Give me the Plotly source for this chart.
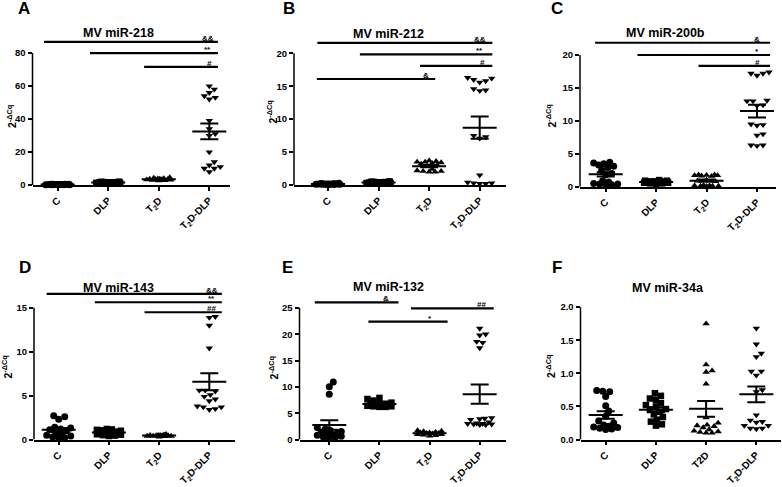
import numpy as np
import plotly.graph_objects as go

W, H = 782, 487
FONT = "Liberation Sans, Arial, sans-serif"

groups = ["C", "DLP", "T2D", "T2D-DLP"]
ticks_sub = ["C", "DLP", "T<sub>2</sub>D", "T<sub>2</sub>D-DLP"]
ticks_f = ["C", "DLP", "T2D", "T<sub>2</sub>D-DLP"]
symbols = ["circle", "square", "triangle-up", "triangle-down"]
msizes = [7, 6.5, 6.5, 6.5]

# ---------------- data (2^-dCq) ----------------
a_c = [0.1, 0.15, 0.2, 0.2, 0.25, 0.25, 0.3, 0.3, 0.3, 0.35, 0.35, 0.4, 0.4, 0.45, 0.5, 0.2]
a_dlp = [1.0, 1.1, 1.2, 1.3, 1.3, 1.4, 1.4, 1.5, 1.5, 1.6, 1.6, 1.7, 1.8, 1.9, 2.0, 1.2]
a_t2d = [2.6, 2.8, 3.0, 3.2, 3.3, 3.4, 3.5, 3.6, 3.7, 3.8, 4.0, 4.2, 4.5, 3.1]
a_t2ddlp = [60, 58, 56, 54, 53, 52, 39, 34, 31, 30, 20, 14, 12, 11, 10, 10, 8]

b_c = [0.05, 0.08, 0.1, 0.1, 0.12, 0.12, 0.15, 0.15, 0.18, 0.2, 0.2, 0.22, 0.25, 0.1, 0.14, 0.16]
b_dlp = [0.2, 0.25, 0.28, 0.3, 0.32, 0.35, 0.35, 0.38, 0.4, 0.42, 0.45, 0.48, 0.5, 0.55, 0.3, 0.4]
b_t2d = [3.7, 3.6, 3.5, 3.5, 3.4, 3.3, 3.2, 3.0, 2.9, 2.4, 2.2, 2.1, 2.1, 2.0, 2.0]
b_t2ddlp = [16.3, 16.2, 16.0, 15.8, 15.6, 14.6, 14.4, 14.3, 7.5, 7.3, 7.1, 1.5, 0.4, 0.3, 0.3, 0.2, 0.2]

c_c = [3.7, 3.6, 3.5, 3.3, 3.1, 2.9, 2.5, 2.0, 1.8, 0.9, 0.7, 0.5, 0.4, 0.4, 0.3, 0.3]
c_dlp = [0.4, 0.5, 0.5, 0.6, 0.6, 0.7, 0.7, 0.7, 0.8, 0.8, 0.8, 0.9, 0.9, 1.0, 0.6, 0.7]
c_t2d = [1.8, 1.8, 1.75, 1.7, 1.7, 1.65, 1.6, 1.0, 0.9, 0.8, 0.2, 0.15, 0.15, 0.1, 0.1, 0.1, 0.05]
c_t2ddlp = [17.4, 17.2, 17.2, 16.9, 13.1, 13.0, 13.0, 12.4, 12.3, 9.5, 9.4, 9.3, 8.0, 7.8, 6.3, 6.3, 6.2]

d_c = [2.7, 2.6, 2.3, 1.4, 1.3, 1.2, 1.1, 1.0, 0.8, 0.6, 0.5, 0.4, 0.3, 0.2, 0.2]
d_dlp = [1.2, 1.15, 1.1, 1.05, 1.0, 0.9, 0.85, 0.8, 0.75, 0.7, 0.65, 0.6, 0.55, 0.5, 0.45, 0.4]
d_t2d = [0.3, 0.35, 0.4, 0.4, 0.45, 0.45, 0.5, 0.5, 0.55, 0.6, 0.4, 0.45, 0.5]
d_t2ddlp = [14.0, 13.9, 13.0, 10.4, 5.6, 5.6, 5.5, 5.1, 4.9, 4.6, 4.4, 3.8, 3.7, 3.7, 3.5, 3.4]

e_c = [10.9, 10.0, 8.6, 2.3, 2.0, 1.7, 1.5, 1.4, 1.2, 1.0, 0.9, 0.8, 0.6, 0.5, 0.4, 0.3]
e_dlp = [7.9, 7.7, 7.4, 7.0, 6.8, 6.7, 6.6, 6.5, 6.5, 6.4, 6.4, 6.3, 6.3, 6.2, 6.2]
e_t2d = [0.7, 0.8, 0.9, 1.0, 1.1, 1.2, 1.2, 1.3, 1.4, 1.5, 1.6, 1.7, 1.0, 1.3]
e_t2ddlp = [21.1, 20.0, 19.8, 18.6, 18.4, 17.4, 4.1, 4.0, 3.9, 3.8, 3.3, 3.1, 3.0, 3.0, 2.9, 2.9, 2.8, 2.8]

f_c = [0.74, 0.73, 0.72, 0.65, 0.51, 0.43, 0.35, 0.28, 0.25, 0.22, 0.20, 0.19, 0.18, 0.17, 0.16, 0.15]
f_dlp = [0.70, 0.66, 0.62, 0.60, 0.55, 0.52, 0.50, 0.46, 0.45, 0.42, 0.38, 0.34, 0.30, 0.27, 0.23, 0.21]
f_t2d = [1.75, 1.13, 1.04, 1.02, 0.84, 0.33, 0.25, 0.22, 0.21, 0.20, 0.18, 0.15, 0.13, 0.12, 0.11, 0.10, 0.10]
f_t2ddlp = [1.68, 1.44, 1.30, 1.25, 1.03, 1.03, 0.97, 0.75, 0.72, 0.37, 0.29, 0.27, 0.26, 0.21, 0.21, 0.17, 0.17, 0.16]

# significance brackets: (from, to, level, label, label position)
sig_a = [(-0.27, 3.17, 86.8, "&&", 2.97), (0.64, 3.17, 80.0, "**", 2.97), (1.71, 3.17, 71.6, "#", 3.0)]
sig_b = [(-0.21, 3.25, 21.6, "&&", 3.0), (0.63, 3.25, 19.85, "**", 3.0), (1.82, 3.25, 18.1, "#", 3.05),
         (-0.22, 2.12, 16.1, "&", 1.93)]
sig_c = [(-0.21, 3.26, 21.86, "&", 3.0), (0.63, 3.26, 20.0, "*", 3.0), (1.84, 3.26, 18.35, "#", 3.0)]
sig_d = [(-0.24, 3.25, 16.6, "&&", 3.05), (0.72, 3.25, 15.64, "**", 3.05), (1.71, 3.25, 14.5, "##", 3.05)]
sig_e = [(-0.29, 1.38, 26.06, "&", 1.13), (1.63, 3.28, 24.9, "##", 3.04), (0.78, 2.36, 22.4, "*", 2.0)]
sig_f = []

# ---------------- layout geometry (pixels) ----------------
panels = [
    dict(letter="A", title="MV miR-218", data=[a_c, a_dlp, a_t2d, a_t2ddlp], ticks=ticks_sub,
         yt=[0, 20, 40, 60, 80], fmt="{:.0f}", sig=sig_a,
         yax=32.5, xend=230, cat0=57.7, cat3=209.3, y0=187.3, ymaxpx=53.7, ytop=36,
         txy=(118.5, 33.8), lxy=(24.2, 8.5), ytxy=(11.5, 118)),
    dict(letter="B", title="MV miR-212", data=[b_c, b_dlp, b_t2d, b_t2ddlp], ticks=ticks_sub,
         yt=[0, 5, 10, 15, 20], fmt="{:.0f}", sig=sig_b,
         yax=294, xend=505.5, cat0=328, cat3=479.7, y0=187.3, ymaxpx=54, ytop=36,
         txy=(388.7, 34.5), lxy=(288.5, 8.5), ytxy=(272, 114)),
    dict(letter="C", title="MV miR-200b", data=[c_c, c_dlp, c_t2d, c_t2ddlp], ticks=ticks_sub,
         yt=[0, 5, 10, 15, 20], fmt="{:.0f}", sig=sig_c,
         yax=580, xend=776, cat0=605.7, cat3=757, y0=189, ymaxpx=55.7, ytop=36,
         txy=(665.5, 33.5), lxy=(557, 8.5), ytxy=(551, 118)),
    dict(letter="D", title="MV miR-143", data=[d_c, d_dlp, d_t2d, d_t2ddlp], ticks=ticks_sub,
         yt=[0, 5, 10, 15], fmt="{:.0f}", sig=sig_d,
         yax=34, xend=235, cat0=58.7, cat3=209.3, y0=445, ymaxpx=311.7, ytop=290,
         txy=(118.5, 291.7), lxy=(25, 271), ytxy=(6.5, 371.7)),
    dict(letter="E", title="MV miR-132", data=[e_c, e_dlp, e_t2d, e_t2ddlp], ticks=ticks_sub,
         yt=[0, 5, 10, 15, 20, 25], fmt="{:.0f}", sig=sig_e,
         yax=299.5, xend=506, cat0=329.3, cat3=479.7, y0=445, ymaxpx=311.7, ytop=298,
         txy=(388.3, 290.3), lxy=(287.5, 271), ytxy=(273.5, 372.5)),
    dict(letter="F", title="MV miR-34a", data=[f_c, f_dlp, f_t2d, f_t2ddlp], ticks=ticks_f,
         yt=[0, 0.5, 1.0, 1.5, 2.0], fmt="{:.1f}", sig=sig_f,
         yax=580.5, xend=781, cat0=605.7, cat3=756.3, y0=445, ymaxpx=311, ytop=300,
         txy=(668.3, 291.7), lxy=(557, 271), ytxy=(550.5, 371)),
]


def swarm(values, xppu, yppu, diam=6.0, maxw=12):
    vals = np.asarray(values, float)
    order = np.argsort(vals)
    cands = [0]
    for k in range(1, maxw + 1):
        cands += [k, -k]
    placed = []
    offs = np.zeros(len(vals))
    for idx in order:
        y = vals[idx] * yppu
        best, bestd = 0, -1.0
        for c in cands:
            d = min((np.hypot(c - px, y - py) for px, py in placed), default=1e9)
            if d >= diam:
                best = c
                break
            if d > bestd + 1e-9:
                bestd, best = d, c
        placed.append((best, y))
        offs[idx] = best / xppu
    return offs


fig = go.Figure()
shapes, annotations = [], []
black = "#000000"

for i, p in enumerate(panels):
    s = "" if i == 0 else str(i + 1)
    xa, ya = "x" + s, "y" + s
    vmax = p["yt"][-1]
    spacing = (p["cat3"] - p["cat0"]) / 3.0
    yppu = (p["y0"] - p["ymaxpx"]) / vmax
    xr = [-(p["cat0"] - p["yax"]) / spacing, 3 + (p["xend"] - p["cat3"]) / spacing]
    yr = [0, (p["y0"] - p["ytop"]) / yppu]

    for g, vals in enumerate(p["data"]):
        offs = swarm(vals, spacing, yppu)
        fig.add_trace(go.Scatter(
            x=g + offs, y=vals, xaxis=xa, yaxis=ya, mode="markers",
            marker=dict(symbol=symbols[g], size=msizes[g], color=black, line=dict(width=0)),
            cliponaxis=False, showlegend=False, hoverinfo="skip"))
        arr = np.asarray(vals, float)
        m = arr.mean()
        sem = arr.std(ddof=1) / np.sqrt(len(arr))
        hw = 17.0 / spacing
        fig.add_trace(go.Scatter(
            x=[g - hw, g + hw], y=[m, m], xaxis=xa, yaxis=ya, mode="lines",
            line=dict(color=black, width=2), showlegend=False, hoverinfo="skip"))
        fig.add_trace(go.Scatter(
            x=[g], y=[m], xaxis=xa, yaxis=ya, mode="markers",
            marker=dict(size=1, opacity=0),
            error_y=dict(type="data", array=[sem], symmetric=True, width=9, thickness=2, color=black),
            showlegend=False, hoverinfo="skip"))

    for (x0, x1, lvl, lab, lx) in p["sig"]:
        shapes.append(dict(type="line", xref=xa, yref=ya, x0=x0, x1=x1, y0=lvl, y1=lvl,
                           line=dict(color=black, width=2.2)))
        annotations.append(dict(xref=xa, yref=ya, x=lx, y=lvl, text=lab, showarrow=False,
                                xanchor="center", yanchor="bottom", yshift=-2, borderpad=0,
                                font=dict(family=FONT, size=8, color=black, weight="bold")))

    # y axis line from 0 to axis max
    shapes.append(dict(type="line", xref=xa + " domain", yref=ya, x0=0, x1=0, y0=0, y1=vmax,
                       line=dict(color=black, width=1.5)))

    fig.update_layout(**{
        ("xaxis" + s): dict(domain=[p["yax"] / W, p["xend"] / W], anchor=ya, range=xr,
                            tickvals=[0, 1, 2, 3], ticktext=p["ticks"], tickangle=-45,
                            ticks="outside", ticklen=4, tickwidth=1.5, tickcolor=black,
                            showline=True, linewidth=1.5, linecolor=black,
                            showgrid=False, zeroline=False,
                            tickfont=dict(family=FONT, size=10, color=black, weight="bold")),
        ("yaxis" + s): dict(domain=[1 - p["y0"] / H, 1 - p["ytop"] / H], anchor=xa, range=yr,
                            tickvals=p["yt"], ticktext=[p["fmt"].format(v) for v in p["yt"]],
                            ticks="outside", ticklen=4, tickwidth=1.5, tickcolor=black,
                            showline=False, showgrid=False, zeroline=False,
                            tickfont=dict(family=FONT, size=9.5, color=black, weight="bold")),
    })

    tx, ty = p["txy"]
    annotations.append(dict(xref="paper", yref="paper", x=tx / W, y=1 - ty / H, text=p["title"],
                            showarrow=False, xanchor="center", yanchor="middle", borderpad=0,
                            font=dict(family=FONT, size=12.5, color=black, weight="bold")))
    lx, ly = p["lxy"]
    annotations.append(dict(xref="paper", yref="paper", x=lx / W, y=1 - ly / H, text=p["letter"],
                            showarrow=False, xanchor="center", yanchor="middle",
                            font=dict(family=FONT, size=17, color=black, weight="bold")))
    yx, yy = p["ytxy"]
    annotations.append(dict(xref="paper", yref="paper", x=yx / W, y=1 - yy / H,
                            text="2<sup>-ΔCq</sup>", textangle=-90, showarrow=False,
                            xanchor="center", yanchor="middle",
                            font=dict(family=FONT, size=10.5, color=black, weight="bold")))

fig.update_layout(width=W, height=H, margin=dict(l=0, r=0, t=0, b=0),
                  paper_bgcolor="white", plot_bgcolor="white",
                  shapes=shapes, annotations=annotations, showlegend=False)

fig.write_html("out.html", config={"displayModeBar": False},
               post_script="document.body.style.margin='0px';")
